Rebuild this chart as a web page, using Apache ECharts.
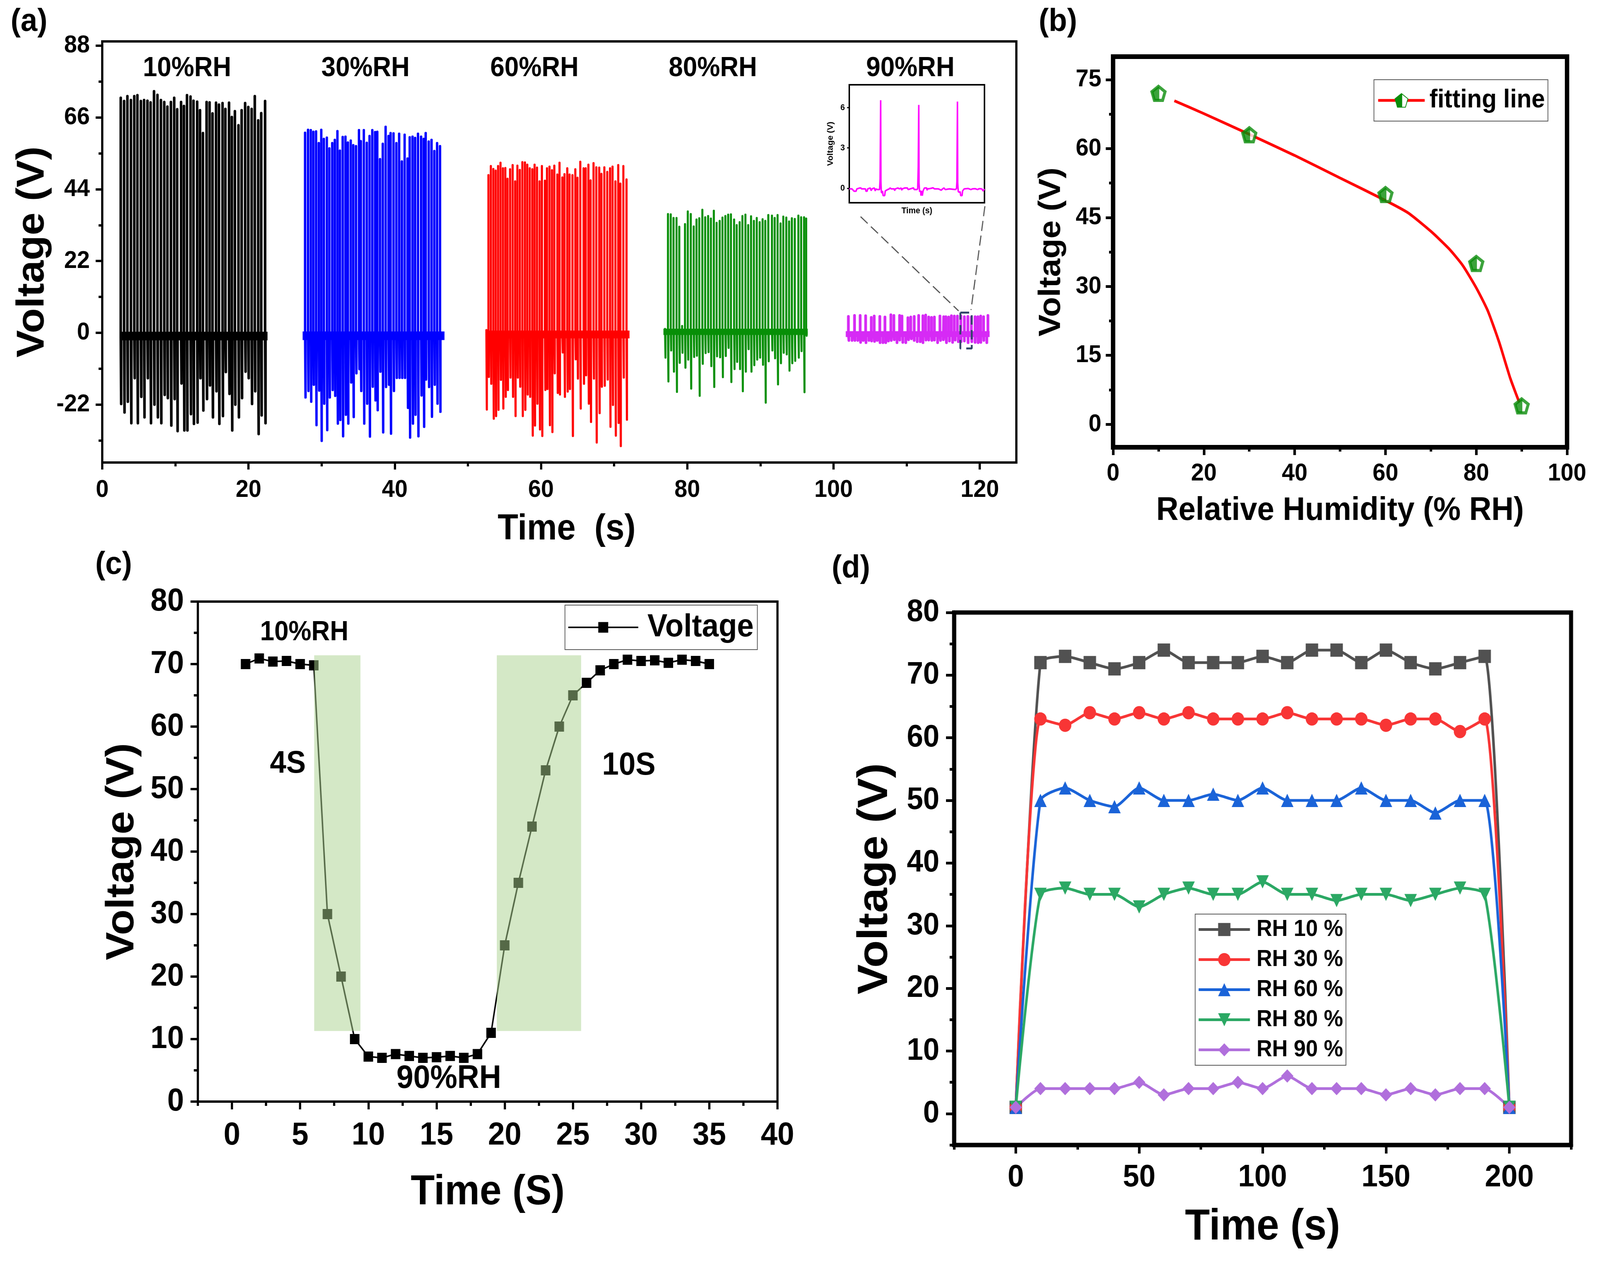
<!DOCTYPE html>
<html>
<head>
<meta charset="utf-8">
<script src="https://cdn.jsdelivr.net/npm/echarts@6/dist/echarts.min.js"></script>
<style>
html, body { margin: 0; padding: 0; background: #fff; overflow: hidden; }
#main { width: 4367px; height: 3246px; transform-origin: 0 0; }
</style>
</head>
<body>
<div id="main"></div>
<script>
// (a) spike trains, one set per humidity step
const t10 = [2.53,2.99,3.44,3.92,4.38,4.81,5.28,5.72,6.18,6.61,7.08,7.55,8.02,8.48,8.91,9.39,9.84,10.25,10.78,11.17,11.59,12.07,12.48,12.98,13.37,13.77,14.27,14.68,15.08,15.56,15.96,16.45,16.84,17.34,17.72,18.14,18.63,19.06,19.54,19.97,20.43,20.86,21.33,21.74,22.27]
const top10 = [72,71,72.5,71.3,72.5,72.8,71,71.3,71.1,70.6,74,72.9,71.3,70.7,69.3,70.7,72,68.5,70.7,69.5,72.8,72.4,71.1,70.8,68.2,61.2,70.7,70.6,67.2,70.5,69.9,70.4,68.6,70.5,66.1,67.9,63.6,68.2,70.4,69.2,68.6,72.5,65.1,67.3,71]
const bot10 = [-21.8,-24.4,-21.1,-27.7,-13.9,-27.7,-19.6,-25.9,-13.9,-27.7,-22,-25.9,-27.7,-19,-20,-28.4,-20.3,-30.1,-15.5,-29.9,-29.9,-24.9,-27.9,-27.5,-13.9,-23.8,-20.3,-16.1,-25.9,-17.9,-27.9,-25.5,-12,-18.7,-29.9,-22,-25.9,-20,-11.9,-13.9,-21.8,-17.9,-31,-25.3,-27.7]

const t30 = [27.74,28.14,28.52,28.87,29.24,29.61,29.95,30.3,30.71,31.06,31.45,31.8,32.16,32.5,32.88,33.26,33.59,33.98,34.33,34.7,35.11,35.36,35.77,36.17,36.55,36.93,37.31,37.61,37.98,38.36,38.75,39.15,39.43,39.83,40.22,40.6,40.97,41.35,41.75,42.04,42.43,42.78,43.18,43.6,43.96,44.23,44.64,45.03,45.41,45.79,46.19]
const top30 = [61.3,62.2,62.1,61.6,61.7,58.1,62.2,59.4,59.8,56.5,58.1,59.1,61.8,55.8,60,60.1,58.3,58.9,57.5,57.2,62.1,58.7,62.1,58.2,60.3,62.1,61.5,61.6,53.2,57.9,63.1,60.3,61.2,61.1,58.1,61,52.5,60.7,53.4,59.9,60.1,59.7,61,60.1,59.4,61.2,58.6,59.1,55.7,58.1,57.2]
const bot30 = [-19.8,-17.8,-21.1,-15.9,-28.3,-17.7,-33.1,-21.7,-29.8,-19.8,-17.5,-19.3,-27.8,-26.7,-31.7,-25.1,-27.8,-15.2,-25.8,-12.4,-11.1,-17.8,-27.8,-21.7,-31.8,-16.5,-20.7,-23.7,-11.9,-30.5,-16.6,-15.9,-30.9,-17.8,-13.8,-13.8,-13.8,-13.8,-23,-32.1,-27.8,-25.1,-31.7,-19.2,-28.8,-14.3,-16.6,-25.7,-15.9,-21.7,-24.2]

const t60 = [52.53,52.81,53.14,53.48,53.8,54.13,54.46,54.79,55.12,55.42,55.77,56.12,56.46,56.77,57.1,57.45,57.8,58.12,58.46,58.81,59.12,59.45,59.8,60.12,60.53,60.82,61.16,61.5,61.82,62.23,62.53,62.91,63.21,63.59,63.9,64.3,64.69,64.99,65.37,65.82,66.11,66.48,66.78,67.18,67.56,67.96,68.26,68.66,69.06,69.44,69.78,70.17,70.56,70.85,71.26,71.69]
const top60 = [0.8,48.3,51.1,50.2,49.7,51.1,52.1,50.4,50.5,47.2,50.1,51.4,46.4,51.2,49.9,52.3,52.2,51.5,50.4,50.1,51.5,50.6,46.4,51.1,46.6,50.4,50.9,49.8,51.2,48.5,52.1,47.6,48.6,50.4,48.5,48.3,50.1,47.5,52.4,50.4,50.4,51.5,46.7,52,50.7,50.6,48.7,50.7,49.3,50.4,50.9,46.4,51.4,45.7,51.1,47]
const bot60 = [-23.5,-13.5,-15.6,-26.3,-25.5,-23.6,-14.4,-23.2,-19.6,-17.5,-13.7,-19.6,-25.5,-13.7,-16.5,-25.5,-23.6,-18.9,-19.6,-31.5,-28.4,-21.7,-29.6,-31.6,-17.5,-17.2,-28.3,-30.4,-12.4,-18.4,-18.9,-6,-19.6,-18,-17.2,-31.6,-8.1,-14,-23.2,-15.6,-13,-21.7,-27.3,-14,-33.6,-24.6,-16.5,-16.2,-14.3,-28.8,-22.1,-31.5,-27.6,-34.7,-13.7,-26.6]

const t80 = [76.96,77.36,77.74,78.12,78.53,78.91,79.29,79.69,80.07,80.48,80.88,81.26,81.64,82.06,82.45,82.85,83.23,83.63,84.01,84.43,84.81,85.21,85.59,85.97,86.4,86.76,87.16,87.54,87.95,88.33,88.72,89.11,89.5,89.9,90.3,90.67,91.08,91.58,91.95,92.35,92.75,93.13,93.54,93.92,94.3,94.7,95.19,95.57,95.97,96.26]
const top80 = [1.2,36.4,36.3,35.2,35.2,32.5,2.1,33.3,37.2,36.4,32.6,34.7,35.1,37.7,35.4,35.8,35,37.4,33.7,34.3,35.3,35.8,36.2,36.3,34.7,33,33.9,35.8,36.2,33,35.7,34.3,35.2,33.9,34.8,34.3,36.1,35.9,35.2,36.1,33.5,35.6,35.3,34.1,35.1,34.9,35.9,35.4,35.4,35]
const bot80 = [-7.6,-14.9,-5.4,-11.9,-18.1,-9.2,-6.1,-10.7,-8.2,-17.1,-7.4,-7,-19.3,-9.5,-6.2,-5.9,-10.2,-16.6,-7.2,-7.5,-13.6,-7.1,-4.6,-15.1,-11.1,-8.9,-11.1,-17.9,-11.9,-5,-11.9,-9.9,-8.2,-7.6,-9.8,-21.4,-8.7,-5.4,-7.8,-15.8,-9.3,-6.1,-6.6,-11.6,-9.3,-8.6,-7.6,-5.6,-18.2,-0.9]

const t90Top = [102.03,102.87,103.64,104.39,105.16,105.56,106.33,107.03,107.84,108.25,109.03,109.36,110.17,110.56,111.03,111.64,112.22,112.6,113.01,113.4,113.79,114.55,115.06,115.36,115.74,116.12,116.52,116.94,117.41,117.89,118.37,118.85,119.36,119.74,120.12,120.52,121.11]
const top90 = [5,5.3,5.3,5.2,4.7,5.1,5,4.8,5.5,5.3,5.3,5.1,4.6,4.8,5,5.3,5.2,5.4,4.8,4.7,4.8,5.1,4.9,4.9,4.8,5.2,5.1,5.1,5.2,4.9,5,4.8,4.9,4.9,5.1,4.9,5.3]
const t90Bot = [102.1,102.53,102.92,103.31,103.7,104.06,104.44,104.84,105.21,105.61,105.98,106.36,106.76,107.14,107.51,107.9,108.3,108.68,109.06,109.47,109.88,110.26,110.65,111.03,111.44,111.85,112.23,112.64,113.02,113.44,113.8,114.23,114.63,115.02,115.44,115.85,116.28,116.64,117.06,117.44,117.89,118.4,118.91,119.36,119.77,120.14,120.55,120.96]
const bot90 = [-2.3,-2.3,-2.3,-2.3,-2.9,-2.3,-3,-2.3,-2.5,-2.6,-2.3,-3,-3,-3,-2.5,-2.3,-2.1,-3,-2.2,-2.9,-3,-2.1,-1.8,-2.3,-2.7,-2.7,-3,-2.2,-2.2,-2.3,-2.2,-3,-2.3,-2.1,-3,-2.5,-2.9,-2.2,-2.7,-2.7,-2.5,-3,-2.7,-2.9,-3,-2.9,-2.3,-3]

const stepColors = ['#000000', '#0000FF', '#FF0000', '#078F07', '#D62AF5']
const stepBaseline = [-1, -0.9, -0.5, 0.3, -0.4]
const stepStart = [2.5, 27.4, 52.43, 76.74, 101.67]
const stepEnd = [22.6, 46.8, 72.1, 96.47, 121.34]
const stepBandPx = [22, 22, 20, 16, 15]
const stepLineW = [7, 6.5, 5.8, 5.5, 7.5]
const stepLabels = ['10%RH', '30%RH', '60%RH', '80%RH', '90%RH']
const stepLabelX = [11.6, 36, 59.1, 83.5, 110.5]
const stepLabelY = [81, 81, 81, 81, 81]

// (a) inset, x in percent of the inset axis
const insetT = [0,2,3.5,5,5.6,7.8,8.6,9,12,12.3,13.2,13.6,15.5,16.2,16.8,18.5,19.2,19.6,21,22.4,22.8,23,23.2,23.4,23.7,24.3,24.6,25,26.2,26.6,27.5,28.3,29.5,30.2,31,33.2,33.6,34,36,37,38.3,38.8,39.2,41,43,43.5,45,47.5,48,50,50.6,51,51.2,51.4,51.6,52,52.8,53,53.4,54,54.6,55,55.6,57.3,57.5,58,60,60.4,62,63,66,66.3,68,69,70,71,74,78.5,79.3,79.6,79.8,80,80.2,80.6,81.4,82,82.4,83.4,83.8,85,88,90,91,93,95,96,98,99,100]
const insetV = [-0.05,-0.05,-0.22,-0.22,-0.05,0.02,0.02,-0.05,-0.05,-0.22,-0.22,-0.05,0.02,-0.18,-0.05,0.02,-0.2,-0.05,-0.1,-0.1,0.7,0.7,6.55,0.5,-0.3,-0.35,-0.2,-0.55,-0.55,-0.2,-0.15,-0.1,-0.05,0.02,-0.05,-0.05,-0.18,-0.05,0.02,-0.05,0.02,-0.15,-0.05,0.02,0.02,-0.1,-0.05,0.03,-0.1,-0.1,-0.03,1.6,1.6,6.2,0.4,-0.25,-0.2,-0.55,-0.2,-0.55,-0.2,-0.1,0.02,0.02,-0.15,-0.05,-0.02,0.03,0.03,-0.05,-0.05,-0.1,-0.15,-0.05,0.02,-0.1,-0.05,-0.1,-0.02,0.5,0.5,6.45,0.4,-0.25,-0.3,-0.25,-0.55,-0.55,-0.2,-0.05,-0.02,-0.1,-0.05,-0.03,-0.1,-0.03,-0.05,-0.2,-0.05]

// zoom box and its two leader lines, in axis units of (a)
const zoomBoxX = [117.34, 118.9, 118.9, 117.34, 117.34]
const zoomBoxY = [6.2, 6.2, -4.8, -4.8, 6.2]
const leaderA = [[103.7, 35.6], [117.1, 6.7]]
const leaderB = [[120.7, 38.8], [118.8, 7]]

// (b)
const humidity = [10, 30, 60, 80, 90]
const humidityV = [72, 63, 50, 35, 4]
const fitX = [13.5, 20, 30, 40, 50, 60, 65, 70, 74, 77, 80, 82.5, 85, 87.5, 89.5]
const fitV = [70.4, 67.6, 63.1, 58.5, 53.6, 48.7, 46, 42, 38.2, 34.6, 29.7, 24.8, 18, 10, 4.7]

// (c)
const responseT = [1,2,3,4,5,6,7,8,9,10,11,12,13,14,15,16,17,18,19,20,21,22,23,24,25,26,27,28,29,30,31,32,33,34,35]
const responseV = [70,70.9,70.4,70.5,70,69.8,30,20,10,7.2,7,7.6,7.3,7,7.1,7.3,7,7.6,11,25,35,44,53,60,65,67,69,70,70.7,70.5,70.6,70.2,70.7,70.5,70]
const shadeX = [[6.03, 9.42], [19.42, 25.6]]
const shadeY = [11.3, 71.4]
const cNotes = ['10%RH', '4S', '10S', '90%RH']
const cNoteX = [5.3, 4.1, 29.1, 15.9]
const cNoteY = [75, 54, 53.7, 3.6]
const cNoteSize = [70, 80, 82, 83]

// (d)
const stabilityT = [0,10,20,30,40,50,60,70,80,90,100,110,120,130,140,150,160,170,180,190,200]
const rh10 = [1,72,73,72,71,72,74,72,72,72,73,72,74,74,72,74,72,71,72,73,1]
const rh30 = [1,63,62,64,63,64,63,64,63,63,63,64,63,63,63,62,63,63,61,63,1]
const rh60 = [1,50,52,50,49,52,50,50,51,50,52,50,50,50,52,50,50,48,50,50,1]
const rh80 = [1,35,36,35,35,33,35,36,35,35,37,35,35,34,35,35,34,35,36,35,1]
const rh90 = [1,4,4,4,4,5,3,4,4,5,4,6,4,4,4,3,4,3,4,4,1]
const rhNames = ['RH 10 %', 'RH 30 %', 'RH 60 %', 'RH 80 %', 'RH 90 %']
const rhColors = ['#515151', '#F83535', '#1A63D8', '#2BA864', '#B06FDC']

const FONT = '"Liberation Sans", Arial, sans-serif'
const PENTAGON = 'path://M50 0 L100 38 L81 100 L19 100 L0 38 Z'
const DOWN_TRI = 'path://M0 0 L100 0 L50 100 Z'
const rhSymbols = ['rect', 'circle', 'triangle', DOWN_TRI, 'diamond']

// the browser window can be narrower than the figure, so squeeze the page to fit it
const mainEl = document.getElementById('main')
mainEl.style.transform = 'scale(' + (window.innerWidth / 4367) + ',' + (window.innerHeight / 3246) + ')'

const grid = []
const xAxis = []
const yAxis = []
const series = []

// one panel: a grid, major axes with labels and a second pair that only holds the minor ticks
function panel(p) {
  const g = grid.length
  grid.push({
    left: p.left, top: p.top, width: p.right - p.left, height: p.bottom - p.top,
    show: true, borderColor: '#000', borderWidth: p.line, backgroundColor: 'transparent', containLabel: false
  })
  const major = (name, gap, ticks, lo, hi, pos, nameSize, pad, margin) => ({
    type: 'value', gridIndex: g, position: pos, min: lo, max: hi,
    name: name, nameLocation: 'middle', nameGap: gap,
    nameTextStyle: { fontFamily: FONT, fontWeight: 'bold', fontSize: nameSize, color: '#000', padding: pad || 0 },
    axisLine: { show: true, onZero: false, lineStyle: { color: '#000', width: p.line } },
    axisTick: { show: ticks.length > 0, customValues: ticks, length: p.tick, inside: false, lineStyle: { color: '#000', width: p.tickW } },
    axisLabel: { show: ticks.length > 0, customValues: ticks, margin: margin, fontFamily: FONT, fontWeight: 'bold', fontSize: p.labelSize, color: '#000' },
    splitLine: { show: false }
  })
  const minor = (ticks, lo, hi, pos) => ({
    type: 'value', gridIndex: g, position: pos, min: lo, max: hi,
    axisLine: { show: false, onZero: false },
    axisTick: { show: true, customValues: ticks, length: p.tick * 0.55, lineStyle: { color: '#000', width: p.tickW } },
    axisLabel: { show: false },
    splitLine: { show: false }
  })
  const xi = xAxis.length
  const yi = yAxis.length
  xAxis.push(major(p.xName, p.xGap, p.xMajor, p.xMin, p.xMax, 'bottom', p.xNameSize, p.xNamePad, p.xMargin))
  yAxis.push(major(p.yName, p.yGap, p.yMajor, p.yMin, p.yMax, 'left', p.yNameSize, 0, p.yMargin))
  if (p.xMinor) xAxis.push(minor(p.xMinor, p.xMin, p.xMax, 'bottom'))
  if (p.yMinor) yAxis.push(minor(p.yMinor, p.yMin, p.yMax, 'left'))
  return { xAxisIndex: xi, yAxisIndex: yi }
}

function pairs(xs, ys) {
  return xs.map((x, i) => [x, ys[i]])
}

// each spike leaves the baseline and comes back to it
function spikeLine(tTop, vTop, tBot, vBot, base) {
  const ev = pairs(tTop, vTop).concat(pairs(tBot, vBot)).sort((a, b) => a[0] - b[0])
  const out = []
  ev.forEach(e => {
    out.push([e[0], base], e, [e[0], base])
  })
  return out
}

function notes(ax, labels, xs, ys, sizes) {
  series.push(Object.assign({
    type: 'scatter', symbolSize: 0, silent: true, z: 8,
    data: labels.map((l, i) => ({
      name: l, value: [xs[i], ys[i]],
      label: { show: true, position: 'inside', formatter: '{b}', fontFamily: FONT, fontWeight: 'bold', color: '#000', opacity: 1, fontSize: sizes[i] }
    }))
  }, ax))
}

function line(ax, data, color, width, extra) {
  series.push(Object.assign({
    type: 'line', data: data, symbol: 'none', silent: true,
    lineStyle: { color: color, width: width, join: 'round', cap: 'round' }
  }, ax, extra || {}))
}

// ---------- (a)
const axA = panel({
  left: 279, right: 2774, top: 106, bottom: 1184, line: 6, tick: 18, tickW: 6, xMargin: 39, yMargin: 34, labelSize: 63,
  xMin: 0, xMax: 125, yMin: -39.75, yMax: 89.3,
  xMajor: [0, 20, 40, 60, 80, 100, 120], xMinor: [10, 30, 50, 70, 90, 110],
  yMajor: [-22, 0, 22, 44, 66, 88], yMinor: [-33, -11, 11, 33, 55, 77],
  xName: 'Time  (s)', xGap: 126, xNameSize: 92, xNamePad: [0, 0, 0, 40],
  yName: 'Voltage (V)', yGap: 112, yNameSize: 105
})
const plus = (ts) => ts.map(t => t + 0.06)
const stepData = [
  spikeLine(t10, top10, plus(t10), bot10, stepBaseline[0]),
  spikeLine(t30, top30, plus(t30), bot30, stepBaseline[1]),
  spikeLine(t60, top60, plus(t60), bot60, stepBaseline[2]),
  spikeLine(t80, top80, plus(t80), bot80, stepBaseline[3]),
  spikeLine(t90Top, top90, t90Bot, bot90, stepBaseline[4])
]
stepData.forEach((d, i) => {
  line(axA, d, stepColors[i], stepLineW[i])
  line(axA, [[stepStart[i], stepBaseline[i]], [stepEnd[i], stepBaseline[i]]], stepColors[i], stepBandPx[i], {
    lineStyle: { color: stepColors[i], width: stepBandPx[i], cap: 'butt' }
  })
})
notes(axA, stepLabels, stepLabelX, stepLabelY, [70, 70, 70, 70, 70])
line(axA, leaderA, '#555', 3, { lineStyle: { color: '#555', width: 3, type: [26, 12] } })
line(axA, leaderB, '#555', 3, { lineStyle: { color: '#555', width: 3, type: [26, 12] } })
line(axA, pairs(zoomBoxX, zoomBoxY), '#2F4468', 5, { lineStyle: { color: '#2F4468', width: 5, type: [24, 14] }, z: 4 })

// inset of (a)
const axInset = panel({
  left: 2318, right: 2687, top: 217, bottom: 519, line: 4, tick: 6, tickW: 3, xMargin: 12, yMargin: 12, labelSize: 22,
  xMin: 0, xMax: 100, yMin: -1.08, yMax: 7.7,
  xMajor: [], yMajor: [0, 3, 6],
  xName: 'Time (s)', xGap: 10, xNameSize: 22,
  yName: 'Voltage (V)', yGap: 40, yNameSize: 22
})
line(axInset, pairs(insetT, insetV), '#FF00FF', 4, { lineStyle: { color: '#FF00FF', width: 4, join: 'bevel' } })

// ---------- (b)
const axB = panel({
  left: 3038, right: 4277, top: 145, bottom: 1145, line: 12, tick: 20, tickW: 7, xMargin: 36, yMargin: 32, labelSize: 63,
  xMin: 0, xMax: 100, yMin: -5, yMax: 80,
  xMajor: [0, 20, 40, 60, 80, 100], xMinor: [10, 30, 50, 70, 90],
  yMajor: [0, 15, 30, 45, 60, 75], yMinor: [7.5, 22.5, 37.5, 52.5, 67.5],
  xName: 'Relative Humidity (% RH)', xGap: 121, xNameSize: 84,
  yName: 'Voltage (V)', yGap: 126, yNameSize: 84
})
const GREEN = '#0A8C0A'
const markerStyle = {
  color: { type: 'linear', x: 0, y: 0, x2: 1, y2: 0, colorStops: [
    { offset: 0, color: GREEN }, { offset: 0.55, color: GREEN }, { offset: 0.55, color: '#fff' }, { offset: 1, color: '#fff' }
  ] },
  borderColor: GREEN, borderWidth: 8
}
series.push(Object.assign({
  type: 'line', name: 'fitting line', silent: true, smooth: 0.2, symbol: PENTAGON, symbolSize: 36,
  lineStyle: { color: '#FF0000', width: 7 }, itemStyle: markerStyle,
  data: pairs(fitX, fitV).map(v => ({ value: v, symbol: 'none' }))
}, axB))
series.push(Object.assign({
  type: 'scatter', symbol: PENTAGON, symbolSize: 36, silent: true, itemStyle: markerStyle, z: 5,
  data: pairs(humidity, humidityV)
}, axB))

// ---------- (c)
const axC = panel({
  left: 540, right: 2122, top: 1540, bottom: 2820, line: 6, tick: 20, tickW: 6, xMargin: 46, yMargin: 38, labelSize: 82,
  xMin: -2.5, xMax: 40, yMin: 0, yMax: 80,
  xMajor: [0, 5, 10, 15, 20, 25, 30, 35, 40], xMinor: [-2.5, 2.5, 7.5, 12.5, 17.5, 22.5, 27.5, 32.5, 37.5],
  yMajor: [0, 10, 20, 30, 40, 50, 60, 70, 80], yMinor: [5, 15, 25, 35, 45, 55, 65, 75],
  xName: 'Time (S)', xGap: 180, xNameSize: 107,
  yName: 'Voltage (V)', yGap: 152, yNameSize: 108
})
series.push(Object.assign({
  type: 'line', name: 'Voltage', silent: true, symbol: 'rect', symbolSize: 26,
  lineStyle: { color: '#000', width: 4 }, itemStyle: { color: '#000' },
  data: pairs(responseT, responseV)
}, axC))
series.push(Object.assign({
  type: 'line', silent: true, data: [], symbol: 'none',
  markArea: {
    silent: true, z: 6,
    itemStyle: { color: 'rgba(169,209,142,0.5)' },
    data: shadeX.map(x => [{ coord: [x[0], shadeY[0]] }, { coord: [x[1], shadeY[1]] }])
  }
}, axC))
notes(axC, cNotes, cNoteX, cNoteY, cNoteSize)

// ---------- (d)
const axD = panel({
  left: 2604, right: 4288, top: 1568, bottom: 2931, line: 11, tick: 22, tickW: 7, xMargin: 44, yMargin: 40, labelSize: 80,
  xMin: -25, xMax: 225, yMin: -5, yMax: 80,
  xMajor: [0, 50, 100, 150, 200], xMinor: [-25, 25, 75, 125, 175, 225],
  yMajor: [0, 10, 20, 30, 40, 50, 60, 70, 80], yMinor: [-5, 5, 15, 25, 35, 45, 55, 65, 75],
  xName: 'Time (s)', xGap: 156, xNameSize: 111,
  yName: 'Voltage (V)', yGap: 157, yNameSize: 115
})
const rhValues = [rh10, rh30, rh60, rh80, rh90]
rhValues.forEach((vals, i) => {
  series.push(Object.assign({
    type: 'line', name: rhNames[i], silent: true, smooth: 0.2, symbol: rhSymbols[i], symbolSize: 34,
    lineStyle: { color: rhColors[i], width: 7 }, itemStyle: { color: rhColors[i] },
    data: pairs(stabilityT, vals)
  }, axD))
})

const legendText = (size, gap) => ({ fontFamily: FONT, fontWeight: 'bold', fontSize: size, color: '#000', padding: [0, 0, 0, gap] })
const legendBox = { orient: 'vertical', selectedMode: false, borderColor: '#555', borderWidth: 2, backgroundColor: '#fff', z: 10 }

const panelLetters = [['(a)', 29, 62], ['(b)', 2835, 62], ['(c)', 260, 1452], ['(d)', 2270, 1461]]

const option = {
  animation: false,
  backgroundColor: '#fff',
  grid, xAxis, yAxis, series,
  legend: [
    Object.assign({}, legendBox, {
      data: ['fitting line'], left: 3750, top: 204, padding: [20, 8, 20, 8],
      itemWidth: 127, itemHeight: 44, itemGap: 0, textStyle: legendText(66, 8), lineStyle: { width: 7 }
    }),
    Object.assign({}, legendBox, {
      data: ['Voltage'], left: 1542, top: 1549, padding: [16, 10, 16, 7],
      itemWidth: 191, itemHeight: 34, itemGap: 0, textStyle: legendText(82, 20), lineStyle: { width: 4 }
    }),
    Object.assign({}, legendBox, {
      data: rhNames, left: 3262, top: 2340, padding: [10, 8, 10, 6],
      itemWidth: 140, itemHeight: 42, itemGap: 18, textStyle: legendText(59, 13), lineStyle: { width: 7 }
    })
  ],
  graphic: panelLetters.map(l => ({
    type: 'text', left: l[1], top: l[2] - 47,
    style: { text: l[0], font: 'bold 82px ' + FONT, fill: '#000' }
  }))
}

const chart = echarts.init(mainEl, null, { width: 4367, height: 3246 })
chart.setOption(option)
</script>
</body>
</html>
